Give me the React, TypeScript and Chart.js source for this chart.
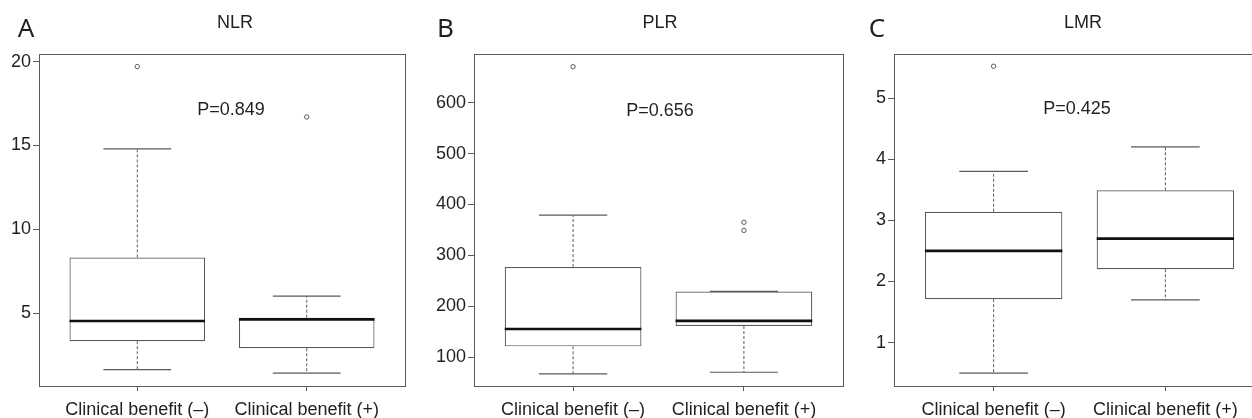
import React, { useEffect, useRef } from "react";
import { Chart, registerables } from "chart.js";
Chart.register(...registerables);

// ---------- data ----------
const categories = ["Clinical benefit (–)", "Clinical benefit (+)"];
const positions = [1, 2];

const nlrLow = [1.65, 1.44];
const nlrQ1 = [3.34, 2.92];
const nlrMedian = [4.54, 4.64];
const nlrQ3 = [8.33, 4.74];
const nlrHigh = [14.8, 6.02];
const nlrOutliers = [[19.7], [16.7]];
const nlrTicks = [5, 10, 15, 20];

const plrLow = [67, 70];
const plrQ1 = [121, 161];
const plrMedian = [155, 171];
const plrQ3 = [277, 229];
const plrHigh = [379, 229];
const plrOutliers = [[671], [349, 365]];
const plrTicks = [100, 200, 300, 400, 500, 600];

const lmrLow = [0.5, 1.7];
const lmrQ1 = [1.71, 2.2];
const lmrMedian = [2.5, 2.7];
const lmrQ3 = [3.14, 3.49];
const lmrHigh = [3.8, 4.2];
const lmrOutliers = [[5.52], []];
const lmrTicks = [1, 2, 3, 4, 5];

const titles = ["NLR", "PLR", "LMR"];
const panelLetters = ["A", "B", "C"];
const pValues = ["P=0.849", "P=0.656", "P=0.425"];

// ---------- styling ----------
const TEXT = "#231f20";
const LINE = "#5a5a5a";
const FONT = "'Liberation Sans', Arial, Helvetica, sans-serif";

type Stats = {
  low: number[]; q1: number[]; median: number[]; q3: number[]; high: number[];
  outliers: number[][]; ticks: number[]; min: number; max: number;
};

type Panel = {
  stats: Stats; title: string; letter: string; pText: string;
  left: number; width: number; yWidth: number; padRight: number;
  titleX: number; letterX: number; pX: number; pY: number;
};

const panels: Panel[] = [
  {
    stats: { low: nlrLow, q1: nlrQ1, median: nlrMedian, q3: nlrQ3, high: nlrHigh, outliers: nlrOutliers, ticks: nlrTicks, min: 0.67, max: 20.45 },
    title: titles[0], letter: panelLetters[0], pText: pValues[0],
    left: 0, width: 415, yWidth: 39, padRight: 10, titleX: 235, letterX: 26, pX: 231, pY: 110,
  },
  {
    stats: { low: plrLow, q1: plrQ1, median: plrMedian, q3: plrQ3, high: plrHigh, outliers: plrOutliers, ticks: plrTicks, min: 43, max: 696 },
    title: titles[1], letter: panelLetters[1], pText: pValues[1],
    left: 415, width: 433, yWidth: 59, padRight: 4, titleX: 245, letterX: 30.5, pX: 245, pY: 111,
  },
  {
    stats: { low: lmrLow, q1: lmrQ1, median: lmrMedian, q3: lmrQ3, high: lmrHigh, outliers: lmrOutliers, ticks: lmrTicks, min: 0.29, max: 5.72 },
    title: titles[2], letter: panelLetters[2], pText: pValues[2],
    left: 848, width: 430, yWidth: 46, padRight: 13, titleX: 235, letterX: 29, pX: 229, pY: 109,
  },
];

const H = 418;
const X_HEIGHT = 32;

function buildConfig(p: Panel): any {
  const s = p.stats;
  const boxData = positions.map((x, i) => ({ x, y: [s.q1[i], s.q3[i]] }));
  const whiskerData: any[] = [];
  const capData: any[] = [];
  const medianData: any[] = [];
  const outlierData: any[] = [];
  positions.forEach((x, i) => {
    if (s.high[i] > s.q3[i]) whiskerData.push({ x, y: s.q3[i] }, { x, y: s.high[i] }, { x, y: null });
    if (s.low[i] < s.q1[i]) whiskerData.push({ x, y: s.q1[i] }, { x, y: s.low[i] }, { x, y: null });
    capData.push({ x: x - 0.2, y: s.high[i] }, { x: x + 0.2, y: s.high[i] }, { x, y: null });
    capData.push({ x: x - 0.2, y: s.low[i] }, { x: x + 0.2, y: s.low[i] }, { x, y: null });
    medianData.push({ x: x - 0.4, y: s.median[i] }, { x: x + 0.4, y: s.median[i] }, { x, y: null });
    s.outliers[i].forEach((v) => outlierData.push({ x, y: v }));
  });

  const textPlugin = {
    id: "panelText",
    beforeDatasetsDraw(chart: any) {
      const { ctx, chartArea } = chart;
      ctx.save();
      ctx.strokeStyle = LINE;
      ctx.lineWidth = 1;
      ctx.strokeRect(
        Math.round(chartArea.left) + 0.5,
        Math.round(chartArea.top) + 0.5,
        Math.round(chartArea.right - chartArea.left),
        Math.round(chartArea.bottom - chartArea.top)
      );
      ctx.restore();
    },
    afterDraw(chart: any) {
      const { ctx } = chart;
      ctx.save();
      ctx.fillStyle = TEXT;
      ctx.textAlign = "center";
      ctx.textBaseline = "middle";
      ctx.font = `18px ${FONT}`;
      ctx.fillText(p.title, p.titleX, 23);
      ctx.fillText(p.pText, p.pX, p.pY);
      ctx.font = `26px 'Noto Sans', 'Open Sans', sans-serif`;
      ctx.fillText(p.letter, p.letterX, 30);
      ctx.restore();
    },
  };

  return {
    type: "bar",
    data: {
      datasets: [
        {
          type: "bar",
          data: boxData,
          backgroundColor: "#ffffff",
          borderColor: LINE,
          borderWidth: 1.2,
          borderSkipped: false,
          barPercentage: 0.8,
          categoryPercentage: 1,
          order: 3,
        },
        {
          type: "line",
          data: whiskerData,
          borderColor: LINE,
          borderWidth: 1,
          borderDash: [3, 2],
          pointRadius: 0,
          spanGaps: false,
          order: 4,
        },
        {
          type: "line",
          data: capData,
          borderColor: LINE,
          borderWidth: 1.2,
          pointRadius: 0,
          spanGaps: false,
          order: 2,
        },
        {
          type: "line",
          data: medianData,
          borderColor: "#111111",
          borderWidth: 2.6,
          pointRadius: 0,
          spanGaps: false,
          order: 0,
        },
        {
          type: "scatter",
          data: outlierData,
          pointRadius: 2.2,
          pointBackgroundColor: "#ffffff",
          pointBorderColor: LINE,
          pointBorderWidth: 1,
          order: 1,
        },
      ],
    },
    options: {
      responsive: false,
      animation: false,
      events: [],
      layout: { padding: { top: 54, right: p.padRight, left: 0, bottom: 0 } },
      plugins: { legend: { display: false }, tooltip: { enabled: false }, title: { display: false } },
      scales: {
        x: {
          type: "linear",
          min: 0.42,
          max: 2.58,
          offset: false,
          afterBuildTicks: (axis: any) => {
            axis.ticks = positions.map((v) => ({ value: v }));
          },
          afterFit: (axis: any) => {
            axis.height = X_HEIGHT;
          },
          border: { display: false },
          grid: { display: true, drawOnChartArea: false, drawTicks: true, tickLength: 5, color: LINE, offset: false },
          ticks: {
            autoSkip: false,
            maxRotation: 0,
            padding: 8,
            color: TEXT,
            font: { family: FONT, size: 18 },
            callback: (v: number) => categories[positions.indexOf(v)],
          },
        },
        y: {
          type: "linear",
          min: s.min,
          max: s.max,
          afterBuildTicks: (axis: any) => {
            axis.ticks = s.ticks.map((v) => ({ value: v }));
          },
          afterFit: (axis: any) => {
            axis.width = p.yWidth;
          },
          border: { display: false },
          grid: { display: true, drawOnChartArea: false, drawTicks: true, tickLength: 6, color: LINE },
          ticks: {
            padding: 2,
            color: TEXT,
            font: { family: FONT, size: 18 },
            callback: (v: number) => String(v),
          },
        },
      },
    },
    plugins: [textPlugin],
  };
}

function PanelChart({ panel }: { panel: Panel }) {
  const ref = useRef<HTMLCanvasElement | null>(null);
  useEffect(() => {
    if (!ref.current) return;
    const chart = new Chart(ref.current, buildConfig(panel));
    return () => chart.destroy();
  }, [panel]);
  return (
    <canvas
      ref={ref}
      width={panel.width}
      height={H}
      style={{ position: "absolute", left: panel.left, top: 0, width: panel.width, height: H }}
    />
  );
}

export default function App() {
  return (
    <div
      style={{
        position: "absolute",
        left: 0,
        top: 0,
        width: 1252,
        height: H,
        overflow: "hidden",
        background: "#ffffff",
      }}
    >
      {panels.map((p, i) => (
        <PanelChart key={i} panel={p} />
      ))}
    </div>
  );
}
